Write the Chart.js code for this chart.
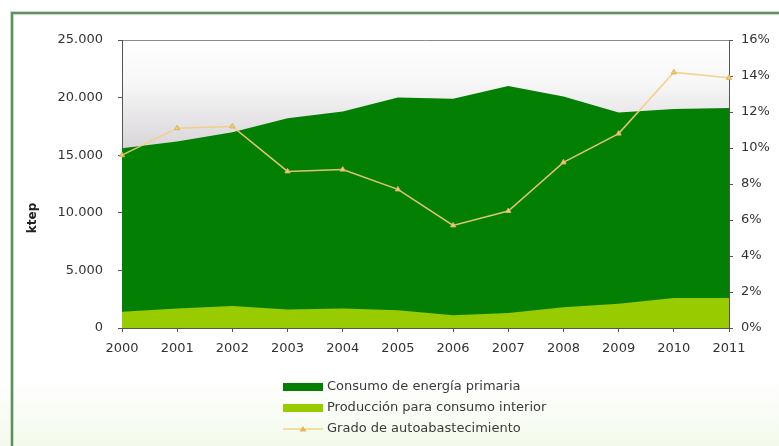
<!DOCTYPE html>
<html>
<head>
<meta charset="utf-8">
<title>Autoabastecimiento energético</title>
<script src="https://cdn.jsdelivr.net/npm/chart.js@4/dist/chart.umd.min.js"></script>
<style>
    html, body { margin: 0; padding: 0; background: #fff; }
    #grafico { display: block; }
</style>
</head>
<body>
<canvas id="grafico" width="779" height="446"></canvas>
<script>
// years on the horizontal axis
var anios = ['2000', '2001', '2002', '2003', '2004', '2005', '2006', '2007', '2008', '2009', '2010', '2011'];
// ktep
var consumoPrimaria = [15600, 16200, 17000, 18200, 18800, 20000, 19900, 21000, 20100, 18700, 19000, 19100];
var produccionInterior = [1400, 1700, 1900, 1600, 1700, 1550, 1100, 1300, 1800, 2100, 2600, 2600];
// %
var gradoAutoabastecimiento = [9.6, 11.1, 11.2, 8.7, 8.8, 7.7, 5.7, 6.5, 9.2, 10.8, 14.2, 13.9];

var leftTicks = { min: 0, max: 25000, step: 5000 };
var rightTicks = { min: 0, max: 16, step: 2 };

var series = [
    { label: 'Consumo de energía primaria', color: '#037f03', kind: 'area' },
    { label: 'Producción para consumo interior', color: '#99cc00', kind: 'area' },
    { label: 'Grado de autoabastecimiento', color: 'rgba(245,205,125,0.9)', kind: 'line' }
];

var FONT = "'DejaVu Sans', 'Liberation Sans', sans-serif";
var AXIS = '#555';

function miles(v) {
    return String(v).replace(/\B(?=(\d{3})+(?!\d))/g, '.');
}

// page frame, plot background and the top edge of the plot
var fondo = {
    id: 'fondo',
    beforeDraw: function(chart) {
        var ctx = chart.ctx, a = chart.chartArea;
        ctx.save();
        var g = ctx.createLinearGradient(0, 0, 0, chart.height);
        g.addColorStop(0, '#ffffff');
        g.addColorStop(0.85, '#ffffff');
        g.addColorStop(1, '#f3faeb');
        ctx.fillStyle = g;
        ctx.fillRect(0, 0, chart.width, chart.height);

        var p = ctx.createLinearGradient(0, a.top, 0, a.bottom);
        p.addColorStop(0, '#ffffff');
        p.addColorStop(0.15, '#f7f7f7');
        p.addColorStop(0.4, '#d6d2d6');
        p.addColorStop(1, '#c4c4c4');
        ctx.fillStyle = p;
        ctx.fillRect(a.left, a.top, a.right - a.left, a.bottom - a.top);

        ctx.strokeStyle = '#8a8a8a';
        ctx.lineWidth = 1;
        ctx.beginPath();
        ctx.moveTo(a.left, a.top + 0.5);
        ctx.lineTo(a.right, a.top + 0.5);
        ctx.stroke();

        // green frame, only top and left edges show
        ctx.strokeStyle = '#c4dcc4';
        ctx.lineWidth = 4;
        ctx.beginPath();
        ctx.moveTo(12, chart.height);
        ctx.lineTo(12, 13);
        ctx.lineTo(chart.width, 13);
        ctx.stroke();
        ctx.strokeStyle = '#5f8f5f';
        ctx.lineWidth = 2;
        ctx.stroke();
        ctx.restore();
    }
};

// vertical title and the stacked legend under the axis
var rotulos = {
    id: 'rotulos',
    afterDraw: function(chart) {
        var ctx = chart.ctx;
        ctx.save();
        ctx.fillStyle = '#222';
        ctx.font = 'bold 12px ' + FONT;
        ctx.textAlign = 'center';
        ctx.textBaseline = 'middle';
        ctx.translate(33, 218);
        ctx.rotate(-Math.PI / 2);
        ctx.fillText('ktep', 0, 0);
        ctx.restore();

        ctx.save();
        ctx.font = '13px ' + FONT;
        ctx.textBaseline = 'middle';
        var x = 283, y = 387, row = 21;
        series.forEach(function(s, i) {
            var cy = y + i * row;
            if (s.kind === 'area') {
                ctx.fillStyle = s.color;
                ctx.fillRect(x, cy - 4, 40, 8);
            } else {
                ctx.strokeStyle = s.color;
                ctx.lineWidth = 1.5;
                ctx.beginPath();
                ctx.moveTo(x, cy);
                ctx.lineTo(x + 40, cy);
                ctx.stroke();
                ctx.fillStyle = '#e2b860';
                ctx.beginPath();
                ctx.moveTo(x + 20, cy - 3);
                ctx.lineTo(x + 23.5, cy + 2.5);
                ctx.lineTo(x + 16.5, cy + 2.5);
                ctx.closePath();
                ctx.fill();
            }
            ctx.fillStyle = '#3a3a3a';
            ctx.fillText(s.label, x + 44, cy);
        });
        ctx.restore();
    }
};

var ejeX = {
    type: 'category',
    offset: false,
    grid: { display: true, drawOnChartArea: false, tickLength: 4, color: AXIS },
    border: { color: AXIS, width: 1 },
    ticks: { color: '#333', font: { family: FONT, size: 13 }, padding: 9, maxRotation: 0, autoSkip: false },
    afterFit: function(scale) { scale.height = 32; }
};

var ejeIzq = {
    position: 'left',
    min: leftTicks.min,
    max: leftTicks.max,
    grid: { display: true, drawOnChartArea: false, tickLength: 4, color: AXIS },
    border: { color: AXIS, width: 1 },
    ticks: {
        stepSize: leftTicks.step, color: '#333', padding: 15,
        font: { family: FONT, size: 13 },
        callback: function(v) { return miles(v); }
    },
    afterFit: function(scale) { scale.width = 122; }
};

var ejeDer = {
    position: 'right',
    min: rightTicks.min,
    max: rightTicks.max,
    grid: { display: true, drawOnChartArea: false, tickLength: 4, color: AXIS },
    border: { color: AXIS, width: 1 },
    ticks: {
        stepSize: rightTicks.step, color: '#333', padding: 8,
        font: { family: FONT, size: 13 },
        callback: function(v) { return v + '%'; }
    },
    afterFit: function(scale) { scale.width = 50; }
};

new Chart(document.getElementById('grafico').getContext('2d'), {
    type: 'line',
    data: {
        labels: anios,
        datasets: [
            {
                label: series[2].label,
                data: gradoAutoabastecimiento,
                yAxisID: 'y1',
                order: 0,
                borderColor: series[2].color,
                borderWidth: 1.5,
                tension: 0,
                fill: false,
                pointStyle: 'triangle',
                pointRadius: 3,
                pointBackgroundColor: '#efcf80',
                pointBorderColor: '#d9b060',
                pointBorderWidth: 1
            },
            {
                label: series[1].label,
                data: produccionInterior,
                yAxisID: 'y',
                order: 1,
                backgroundColor: series[1].color,
                borderWidth: 0,
                pointRadius: 0,
                tension: 0,
                fill: 'origin'
            },
            {
                label: series[0].label,
                data: consumoPrimaria,
                yAxisID: 'y',
                order: 2,
                backgroundColor: series[0].color,
                borderWidth: 0,
                pointRadius: 0,
                tension: 0,
                fill: 'origin'
            }
        ]
    },
    options: {
        responsive: false,
        animation: false,
        layout: { padding: { left: 0, right: 0, top: 40, bottom: 86 } },
        plugins: {
            legend: { display: false },
            tooltip: { enabled: false },
            filler: { propagate: false }
        },
        scales: { x: ejeX, y: ejeIzq, y1: ejeDer }
    },
    plugins: [fondo, rotulos]
});
</script>
</body>
</html>
